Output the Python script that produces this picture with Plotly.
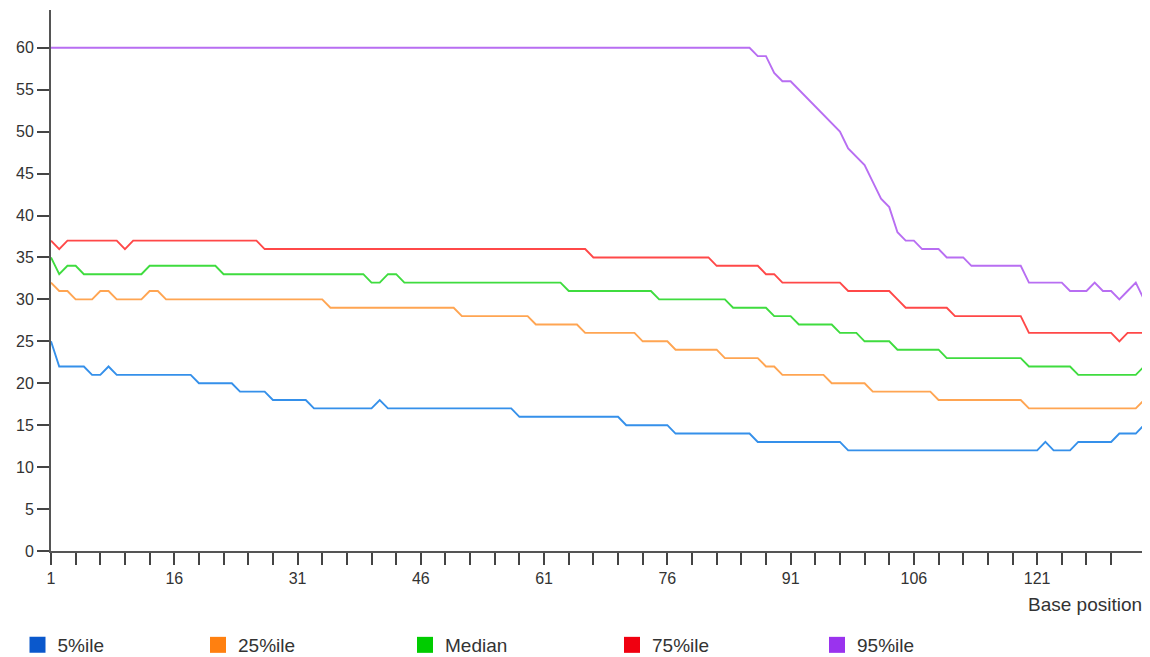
import plotly.graph_objects as go

# Base positions (categories)
positions = list(range(1, 135))

p5 = [25, 22, 22, 22, 22, 21, 21, 22, 21, 21,
      21, 21, 21, 21, 21, 21, 21, 21, 20, 20,
      20, 20, 20, 19, 19, 19, 19, 18, 18, 18,
      18, 18, 17, 17, 17, 17, 17, 17, 17, 17,
      18, 17, 17, 17, 17, 17, 17, 17, 17, 17,
      17, 17, 17, 17, 17, 17, 17, 16, 16, 16,
      16, 16, 16, 16, 16, 16, 16, 16, 16, 16,
      15, 15, 15, 15, 15, 15, 14, 14, 14, 14,
      14, 14, 14, 14, 14, 14, 13, 13, 13, 13,
      13, 13, 13, 13, 13, 13, 13, 12, 12, 12,
      12, 12, 12, 12, 12, 12, 12, 12, 12, 12,
      12, 12, 12, 12, 12, 12, 12, 12, 12, 12,
      12, 13, 12, 12, 12, 13, 13, 13, 13, 13,
      14, 14, 14, 15]

p25 = [32, 31, 31, 30, 30, 30, 31, 31, 30, 30,
       30, 30, 31, 31, 30, 30, 30, 30, 30, 30,
       30, 30, 30, 30, 30, 30, 30, 30, 30, 30,
       30, 30, 30, 30, 29, 29, 29, 29, 29, 29,
       29, 29, 29, 29, 29, 29, 29, 29, 29, 29,
       28, 28, 28, 28, 28, 28, 28, 28, 28, 27,
       27, 27, 27, 27, 27, 26, 26, 26, 26, 26,
       26, 26, 25, 25, 25, 25, 24, 24, 24, 24,
       24, 24, 23, 23, 23, 23, 23, 22, 22, 21,
       21, 21, 21, 21, 21, 20, 20, 20, 20, 20,
       19, 19, 19, 19, 19, 19, 19, 19, 18, 18,
       18, 18, 18, 18, 18, 18, 18, 18, 18, 17,
       17, 17, 17, 17, 17, 17, 17, 17, 17, 17,
       17, 17, 17, 18]

median = [35, 33, 34, 34, 33, 33, 33, 33, 33, 33,
          33, 33, 34, 34, 34, 34, 34, 34, 34, 34,
          34, 33, 33, 33, 33, 33, 33, 33, 33, 33,
          33, 33, 33, 33, 33, 33, 33, 33, 33, 32,
          32, 33, 33, 32, 32, 32, 32, 32, 32, 32,
          32, 32, 32, 32, 32, 32, 32, 32, 32, 32,
          32, 32, 32, 31, 31, 31, 31, 31, 31, 31,
          31, 31, 31, 31, 30, 30, 30, 30, 30, 30,
          30, 30, 30, 29, 29, 29, 29, 29, 28, 28,
          28, 27, 27, 27, 27, 27, 26, 26, 26, 25,
          25, 25, 25, 24, 24, 24, 24, 24, 24, 23,
          23, 23, 23, 23, 23, 23, 23, 23, 23, 22,
          22, 22, 22, 22, 22, 21, 21, 21, 21, 21,
          21, 21, 21, 22]

p75 = [37, 36, 37, 37, 37, 37, 37, 37, 37, 36,
       37, 37, 37, 37, 37, 37, 37, 37, 37, 37,
       37, 37, 37, 37, 37, 37, 36, 36, 36, 36,
       36, 36, 36, 36, 36, 36, 36, 36, 36, 36,
       36, 36, 36, 36, 36, 36, 36, 36, 36, 36,
       36, 36, 36, 36, 36, 36, 36, 36, 36, 36,
       36, 36, 36, 36, 36, 36, 35, 35, 35, 35,
       35, 35, 35, 35, 35, 35, 35, 35, 35, 35,
       35, 34, 34, 34, 34, 34, 34, 33, 33, 32,
       32, 32, 32, 32, 32, 32, 32, 31, 31, 31,
       31, 31, 31, 30, 29, 29, 29, 29, 29, 29,
       28, 28, 28, 28, 28, 28, 28, 28, 28, 26,
       26, 26, 26, 26, 26, 26, 26, 26, 26, 26,
       25, 26, 26, 26]

p95 = [60, 60, 60, 60, 60, 60, 60, 60, 60, 60,
       60, 60, 60, 60, 60, 60, 60, 60, 60, 60,
       60, 60, 60, 60, 60, 60, 60, 60, 60, 60,
       60, 60, 60, 60, 60, 60, 60, 60, 60, 60,
       60, 60, 60, 60, 60, 60, 60, 60, 60, 60,
       60, 60, 60, 60, 60, 60, 60, 60, 60, 60,
       60, 60, 60, 60, 60, 60, 60, 60, 60, 60,
       60, 60, 60, 60, 60, 60, 60, 60, 60, 60,
       60, 60, 60, 60, 60, 60, 59, 59, 57, 56,
       56, 55, 54, 53, 52, 51, 50, 48, 47, 46,
       44, 42, 41, 38, 37, 37, 36, 36, 36, 35,
       35, 35, 34, 34, 34, 34, 34, 34, 34, 32,
       32, 32, 32, 32, 31, 31, 31, 32, 31, 31,
       30, 31, 32, 30]

series_names = ["5%ile", "25%ile", "Median", "75%ile", "95%ile"]
series_values = [p5, p25, median, p75, p95]
line_colors = ["#3590ea", "#ffa552", "#3fdc3f", "#ff4848", "#b86ef2"]
legend_colors = ["#0a58cc", "#ff8010", "#00cc00", "#f00010", "#9a33ee"]

x_tick_vals = [1, 4, 7, 10, 13, 16, 19, 22, 25, 28, 31, 34, 37, 40, 43, 46, 49,
               52, 55, 58, 61, 64, 67, 70, 73, 76, 79, 82, 85, 88, 91, 94, 97,
               100, 103, 106, 109, 112, 115, 118, 121, 124, 127, 130]
x_tick_text = ["1", "", "", "", "", "16", "", "", "", "", "31", "", "", "", "",
               "46", "", "", "", "", "61", "", "", "", "", "76", "", "", "", "",
               "91", "", "", "", "", "106", "", "", "", "", "121", "", "", ""]
y_tick_vals = [0, 5, 10, 15, 20, 25, 30, 35, 40, 45, 50, 55, 60]

# The page body adds an 8px offset, so the figure is 8px smaller
W, H = 1142, 649
legend_x_px = [9.5, 190, 397, 604, 809]
legend_y_px = 637

fig = go.Figure()
for name, vals, lc in zip(series_names, series_values, line_colors):
    fig.add_trace(go.Scatter(x=positions, y=vals, mode="lines", name=name,
                             line=dict(color=lc, width=1.9), showlegend=False))

layout_legends = {}
for k, (name, col, lx) in enumerate(zip(series_names, legend_colors, legend_x_px)):
    key = "legend" if k == 0 else f"legend{k + 1}"
    fig.add_trace(go.Scatter(x=[None], y=[None], mode="markers", name=name,
                             marker=dict(symbol="square", size=16, color=col),
                             showlegend=True, legend=key))
    layout_legends[key] = dict(
        x=lx / W, y=1 - legend_y_px / H, xref="container", yref="container",
        xanchor="left", yanchor="middle", orientation="h",
        bgcolor="rgba(0,0,0,0)", borderwidth=0,
        font=dict(family="Liberation Sans, Arial, sans-serif", size=19, color="#333333"),
    )

axis_font = dict(family="Liberation Sans, Arial, sans-serif", size=16, color="#333333")

fig.update_layout(
    width=W, height=H,
    margin=dict(l=43, r=6, t=2, b=106),
    paper_bgcolor="white", plot_bgcolor="white",
    xaxis=dict(range=[1, 134], tickmode="array", tickvals=x_tick_vals, ticktext=x_tick_text,
               ticks="outside", ticklen=12, tickwidth=1.5, tickcolor="#444444",
               showline=True, linecolor="#555555", linewidth=2,
               showgrid=False, zeroline=False, tickfont=axis_font, automargin=False),
    yaxis=dict(range=[0, 64.5], tickmode="array", tickvals=y_tick_vals,
               ticks="outside", ticklen=12, tickwidth=1.5, tickcolor="#444444",
               showline=True, linecolor="#555555", linewidth=2,
               showgrid=False, zeroline=False, tickfont=axis_font, automargin=False),
    annotations=[dict(text="Base position", xref="paper", yref="paper", x=1, y=0,
                      xanchor="right", yanchor="middle", yshift=-53, showarrow=False,
                      font=dict(family="Liberation Sans, Arial, sans-serif", size=19, color="#333333"))],
    shapes=[dict(type="line", xref="x", yref="y", xsizemode="pixel", xanchor=1,
                 x0=-12, x1=0, y0=64.5, y1=64.5, line=dict(color="#444444", width=1.5))],
    **layout_legends,
)

fig.write_html("out.html")
